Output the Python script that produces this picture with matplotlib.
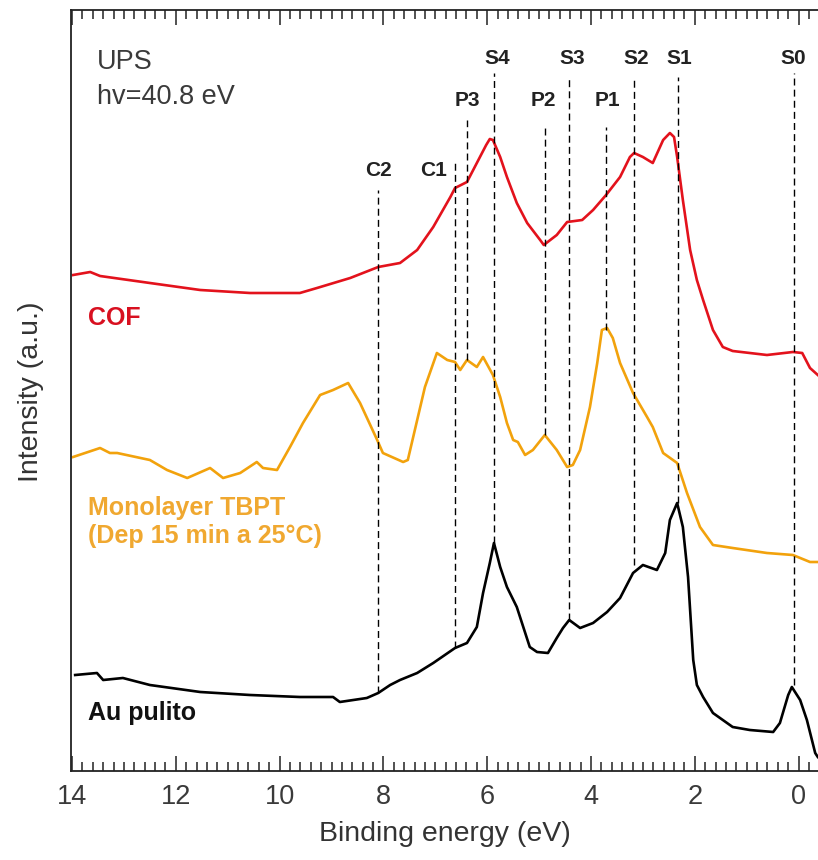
import matplotlib
matplotlib.use("Agg")
import matplotlib.pyplot as plt
from matplotlib.ticker import MultipleLocator

plt.rcParams["font.family"] = ["Liberation Sans", "DejaVu Sans"]

# UPS spectra (He II, 40.8 eV), binding energy in eV, intensity in a.u. (offset stacked)
cof_be = [13.98, 13.65, 13.46, 12.50, 11.53, 10.57, 9.61, 9.28, 8.64, 8.10, 7.68,
          7.35, 7.04, 6.71, 6.62, 6.39, 6.14, 6.02, 5.95, 5.89, 5.75, 5.62, 5.43,
          5.23, 4.98, 4.91, 4.66, 4.46, 4.17, 3.96, 3.71, 3.44, 3.25, 3.17, 3.00,
          2.81, 2.61, 2.48, 2.40, 2.34, 2.23, 2.09, 1.96, 1.84, 1.65, 1.46, 1.27,
          0.61, 0.11, -0.07, -0.22, -0.37]
cof_int = [4.95, 4.98, 4.94, 4.87, 4.80, 4.77, 4.77, 4.82, 4.92, 5.03, 5.07,
           5.20, 5.43, 5.73, 5.82, 5.88, 6.13, 6.25, 6.31, 6.30, 6.13, 5.93, 5.67,
           5.47, 5.30, 5.25, 5.35, 5.48, 5.50, 5.60, 5.75, 5.93, 6.13, 6.17, 6.13,
           6.07, 6.30, 6.37, 6.33, 6.13, 5.70, 5.20, 4.90, 4.70, 4.40, 4.23, 4.19,
           4.15, 4.18, 4.17, 4.02, 3.95]

tbpt_be = [13.98, 13.46, 13.27, 13.13, 12.50, 12.17, 11.78, 11.34, 11.09, 10.76,
           10.44, 10.32, 10.05, 9.80, 9.55, 9.22, 8.97, 8.68, 8.45, 8.12, 8.01,
           7.62, 7.53, 7.20, 6.97, 6.77, 6.62, 6.52, 6.39, 6.20, 6.08, 5.89, 5.75,
           5.62, 5.50, 5.41, 5.27, 5.12, 4.89, 4.66, 4.46, 4.35, 4.21, 4.02, 3.88,
           3.79, 3.69, 3.58, 3.44, 3.19, 2.92, 2.81, 2.61, 2.34, 2.15, 1.90, 1.65,
           1.27, 0.61, 0.11, -0.22, -0.37]
tbpt_int = [3.13, 3.22, 3.17, 3.17, 3.10, 3.00, 2.92, 3.02, 2.92, 2.97,
            3.08, 3.02, 3.00, 3.23, 3.47, 3.75, 3.80, 3.87, 3.67, 3.30, 3.17,
            3.08, 3.10, 3.83, 4.17, 4.10, 4.08, 4.00, 4.10, 4.03, 4.13, 3.95, 3.73,
            3.47, 3.30, 3.28, 3.15, 3.20, 3.35, 3.20, 3.03, 3.05, 3.20, 3.63, 4.07,
            4.40, 4.42, 4.32, 4.07, 3.77, 3.53, 3.43, 3.17, 3.07, 2.77, 2.43, 2.25,
            2.22, 2.17, 2.15, 2.08, 2.08]

au_be = [13.94, 13.52, 13.40, 13.02, 12.50, 11.53, 10.57, 9.61, 8.97, 8.84, 8.32,
         8.10, 7.87, 7.68, 7.35, 7.04, 6.62, 6.39, 6.20, 6.08, 5.95, 5.87, 5.75,
         5.62, 5.43, 5.18, 5.04, 4.83, 4.66, 4.54, 4.42, 4.21, 3.96, 3.69, 3.44,
         3.19, 3.00, 2.73, 2.57, 2.48, 2.34, 2.23, 2.13, 2.03, 1.96, 1.84, 1.65,
         1.27, 0.94, 0.49, 0.36, 0.20, 0.13, -0.03, -0.16, -0.32, -0.37]
au_int = [0.95, 0.97, 0.90, 0.92, 0.85, 0.78, 0.75, 0.73, 0.73, 0.68, 0.72,
          0.77, 0.85, 0.90, 0.97, 1.07, 1.22, 1.27, 1.43, 1.77, 2.07, 2.27, 2.03,
          1.83, 1.63, 1.23, 1.18, 1.17, 1.32, 1.42, 1.50, 1.42, 1.47, 1.58, 1.72,
          1.97, 2.05, 2.00, 2.17, 2.50, 2.67, 2.43, 1.93, 1.10, 0.85, 0.73, 0.57,
          0.43, 0.40, 0.38, 0.47, 0.75, 0.83, 0.70, 0.50, 0.17, 0.13]

# assigned features: name, binding energy, marker span (low, high intensity)
peak_names = ["C2", "C1", "P3", "S4", "P2", "S3", "P1", "S2", "S1", "S0"]
peak_be = [8.10, 6.62, 6.38, 5.875, 4.89, 4.42, 3.71, 3.17, 2.32, 0.08]
peak_lo = [0.77, 1.22, 4.10, 2.27, 3.35, 1.50, 4.40, 2.05, 2.67, 0.85]
peak_hi = [5.80, 6.10, 6.50, 6.97, 6.45, 6.93, 6.43, 6.93, 6.93, 6.97]

# label placement for the feature names (x in eV, y in a.u.)
label_xy = {"C2": (8.10, 6.00), "C1": (7.04, 6.00),
            "P3": (6.39, 6.69), "P2": (4.92, 6.69), "P1": (3.69, 6.69),
            "S4": (5.81, 7.12), "S3": (4.37, 7.12), "S2": (3.13, 7.12),
            "S1": (2.29, 7.12), "S0": (0.11, 7.12)}

RED = "#e3121c"
ORANGE = "#f2a20c"

fig = plt.figure(figsize=(8.18, 8.6), dpi=100)
ax = fig.add_axes([71 / 818, 89 / 860, 747 / 818, 761.5 / 860])

ax.plot(cof_be, cof_int, color=RED, lw=1.9, solid_joinstyle="round")
ax.plot(tbpt_be, tbpt_int, color=ORANGE, lw=1.9, solid_joinstyle="round")
ax.plot(au_be, au_int, color="black", lw=1.9, solid_joinstyle="round")

for name, e, lo, hi in zip(peak_names, peak_be, peak_lo, peak_hi):
    ax.plot([e, e], [lo, hi], color="black", lw=1.0, ls=(0, (5, 3)))
    lx, ly = label_xy[name]
    ax.text(lx, ly, name, ha="center", va="center", fontsize=15,
            fontweight="bold", color="#222222")

ax.text(13.52, 7.08, "UPS", ha="left", va="center", fontsize=19.5, color="#3a3a3a")
ax.text(13.52, 6.73, "hv=40.8 eV", ha="left", va="center", fontsize=19.5,
        color="#3a3a3a")

ax.text(13.69, 4.52, "COF", ha="left", va="center", fontsize=18,
        fontweight="bold", color="#d81020")
ax.text(13.69, 2.48, "Monolayer TBPT\n(Dep 15 min a 25°C)", ha="left",
        va="center", fontsize=18, fontweight="bold", color="#f0a830",
        linespacing=1.25)
ax.text(13.69, 0.57, "Au pulito", ha="left", va="center", fontsize=18,
        fontweight="bold", color="#111111")

ax.set_xlim(14.02, -0.374)
ax.set_ylim(-0.01, 7.605)
ax.xaxis.set_major_locator(MultipleLocator(2))
ax.xaxis.set_minor_locator(MultipleLocator(0.2))
ax.set_yticks([])
ax.spines["right"].set_visible(False)
for s in ("left", "top", "bottom"):
    ax.spines[s].set_linewidth(1.3)
    ax.spines[s].set_color("#222222")
ax.tick_params(axis="x", which="both", direction="in", top=True, bottom=True,
               color="#222222", width=1.1)
ax.tick_params(axis="x", which="major", length=11, pad=9, labelsize=19.5,
               labelcolor="#3a3a3a")
ax.tick_params(axis="x", which="minor", length=6.5)

fig.text(445 / 818, 1 - 834 / 860, "Binding energy (eV)", ha="center",
         va="center", fontsize=20.5, color="#333333")
fig.text(31 / 818, 1 - 392 / 860, "Intensity (a.u.)", ha="center", va="center",
         rotation=90, fontsize=20.5, color="#333333")

fig.savefig("out.png", dpi=100)
